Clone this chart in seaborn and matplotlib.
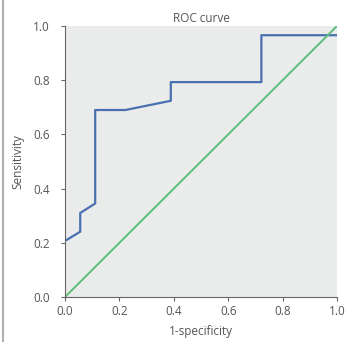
import seaborn as sns, matplotlib.pyplot as plt
from matplotlib.lines import Line2D

# ROC CURVE POINTS
fpr = [0.0, 0.056, 0.056, 0.111, 0.111, 0.222, 0.389, 0.389, 0.722, 0.722, 1.0]
tpr = [0.207, 0.241, 0.310, 0.345, 0.690, 0.690, 0.724, 0.793, 0.793, 0.966, 0.966]
# REFERENCE DIAGONAL
diag = [0.0, 1.0]
ticks = [0.0, 0.2, 0.4, 0.6, 0.8, 1.0]

sns.set_style("ticks")
plt.rcParams['font.family'] = ['Open Sans', 'DejaVu Sans']
txt = '#555555'

fig = plt.figure(figsize=(3.58, 3.42), dpi=100)
ax = fig.add_axes([65/358, 1-297/342, 272/358, 271/342])
ax.set_facecolor('#eaecec')

sns.lineplot(x=fpr, y=tpr, ax=ax, color='#4a70b0', linewidth=1.6, sort=False, estimator=None)
sns.lineplot(x=diag, y=diag, ax=ax, color='#5cbf78', linewidth=1.4, estimator=None)

ax.set_xlim(0, 1)
ax.set_ylim(0, 1)
ax.set_xticks(ticks)
ax.set_yticks(ticks)
ax.set_xticklabels(['%.1f' % t for t in ticks])
ax.set_yticklabels(['%.1f' % t for t in ticks])
ax.tick_params(labelsize=8.5, colors='#666666', labelcolor=txt, length=3, width=0.8)
ax.tick_params(axis='y', pad=8)
ax.tick_params(axis='x', pad=3)
for sp in ['top', 'right']:
    ax.spines[sp].set_visible(False)
for sp in ['left', 'bottom']:
    ax.spines[sp].set_color('#666666')
    ax.spines[sp].set_linewidth(0.8)

ax.set_title('ROC curve', fontsize=8.5, color=txt, pad=3)
ax.set_xlabel('1-specificity', fontsize=8.5, color=txt)
ax.set_ylabel('Sensitivity', fontsize=8.5, color=txt)
ax.xaxis.set_label_coords(0.5, -0.105)
ax.yaxis.set_label_coords(-0.15, 0.5)

# LEFT PAGE BORDER
fig.add_artist(Line2D([2.5/358, 2.5/358], [0, 1], color='#b0b0b0', linewidth=1.5))

fig.savefig('out.png', dpi=100)
